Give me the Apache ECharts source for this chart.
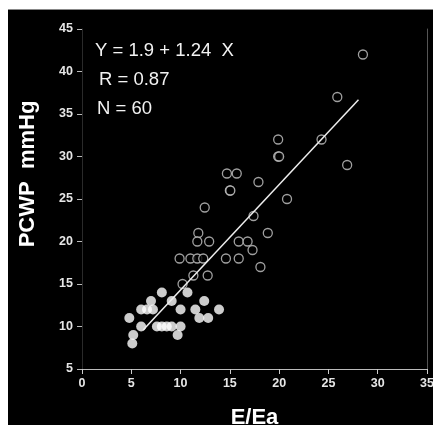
<!DOCTYPE html>
<html>
<head>
<meta charset="utf-8">
<script src="https://cdn.jsdelivr.net/npm/echarts@6/dist/echarts.min.js"></script>
<style>
  html, body { margin: 0; padding: 0; background: #000; overflow: hidden; }
  #chart { width: 433px; height: 425px; }
</style>
</head>
<body>
<div id="chart"></div>
<script>
// Open circles: E/Ea vs PCWP
const openX = [28.5, 25.9, 24.3, 19.9, 19.9, 20.0, 26.9, 14.7, 15.7, 17.9, 15.0, 15.05, 20.8, 12.45, 17.4, 11.8, 18.85, 11.7, 12.9, 15.9, 16.8, 17.3, 9.9, 11.0, 11.7, 12.3, 14.6, 15.9, 18.1, 11.3, 12.75, 10.2];
const openY = [42, 37, 32, 32, 30, 30, 29, 28, 28, 27, 26, 26, 25, 24, 23, 21, 21, 20, 20, 20, 20, 19, 18, 18, 18, 18, 18, 18, 17, 16, 16, 15];

// Filled circles
const filledX = [4.8, 5.1, 5.2, 6.0, 6.0, 6.6, 7.2, 7.0, 8.1, 7.6, 8.1, 8.6, 9.1, 9.1, 10.0, 9.7, 10.0, 10.7, 11.5, 11.9, 12.4, 12.8, 13.9];
const filledY = [11, 8, 9, 10, 12, 12, 12, 13, 14, 10, 10, 10, 10, 13, 10, 9, 12, 14, 12, 11, 13, 11, 12];

// Regression: Y = 1.9 + 1.24 X, drawn over the fitted range
const intercept = 1.9;
const slope = 1.24;
const fitRange = [6.2, 28.05];

const statLines = ['Y = 1.9 + 1.24  X', 'R = 0.87', 'N = 60'];

const xTicks = [0, 5, 10, 15, 20, 25, 30, 35];
const yTicks = [5, 10, 15, 20, 25, 30, 35, 40, 45];

const pair = (xs, ys) => xs.map((x, i) => [x, ys[i]]);
const fitLine = fitRange.map(x => [x, intercept + slope * x]);

const chart = echarts.init(document.getElementById('chart'), null, { renderer: 'canvas' });
const font = 'Liberation Sans, Arial, sans-serif';
const tickFont = { color: '#e6e6e6', fontSize: 12.5, fontWeight: 'bold', fontFamily: font };

chart.setOption({
  backgroundColor: '#000',
  animation: false,
  grid: { left: 82, right: 6, top: 29, bottom: 56, containLabel: false, outerBoundsMode: 'none' },
  xAxis: {
    type: 'value',
    min: xTicks[0], max: xTicks[xTicks.length - 1], interval: 5,
    name: 'E/Ea',
    nameLocation: 'middle',
    nameGap: 38,
    nameTextStyle: { color: '#fff', fontSize: 22, fontWeight: 'bold', fontFamily: font },
    axisLine: { lineStyle: { color: '#bbb', width: 1 } },
    axisTick: { inside: false, length: 5, lineStyle: { color: '#ccc', width: 1 } },
    axisLabel: Object.assign({ margin: 8 }, tickFont),
    splitLine: { show: false }
  },
  yAxis: [{
    type: 'value',
    min: yTicks[0], max: yTicks[yTicks.length - 1], interval: 5,
    axisLine: { show: true, lineStyle: { color: '#2a2a2a', width: 1 } },
    axisTick: { length: 5, lineStyle: { color: '#bbb', width: 1 } },
    axisLabel: Object.assign({ margin: 9 }, tickFont),
    splitLine: { show: false }
  }, {
    type: 'value',
    position: 'right',
    min: yTicks[0], max: yTicks[yTicks.length - 1], interval: 5,
    axisLine: { show: true, lineStyle: { color: '#555', width: 1 } },
    axisTick: { show: false },
    axisLabel: { show: false },
    splitLine: { show: false }
  }],
  graphic: [
    { type: 'rect', left: 0, top: 0, shape: { width: 433, height: 9 }, style: { fill: '#fff' }, z: 100 },
    { type: 'rect', left: 0, top: 0, shape: { width: 8, height: 425 }, style: { fill: '#fff' }, z: 100 },
    { type: 'rect', left: 8, top: 9, shape: { width: 425, height: 1 }, style: { fill: '#888' }, z: 100 },
    {
      type: 'text',
      x: 28, y: 174,
      rotation: Math.PI / 2,
      style: {
        text: 'PCWP  mmHg', fill: '#fff',
        font: 'bold 22px ' + font,
        align: 'center', verticalAlign: 'middle'
      },
      z: 50
    },
    ...statLines.map((t, i) => ({
      type: 'text',
      left: [95, 99, 97][i],
      top: [41, 70, 99][i],
      style: { text: t, fill: '#f2f2f2', font: '18.5px ' + font },
      z: 50
    }))
  ],
  series: [
    {
      type: 'scatter',
      data: pair(filledX, filledY),
      symbol: 'circle',
      symbolSize: 10,
      itemStyle: { color: '#fff', borderWidth: 0 },
      z: 2
    },
    {
      type: 'scatter',
      data: pair(openX, openY),
      symbol: 'circle',
      symbolSize: 9,
      itemStyle: { color: '#000', borderColor: '#c8c8c8', borderWidth: 1.3 },
      z: 3
    },
    {
      type: 'line',
      data: fitLine,
      symbol: 'none',
      lineStyle: { color: '#eee', width: 1.5 },
      z: 4
    }
  ]
});
</script>
</body>
</html>
